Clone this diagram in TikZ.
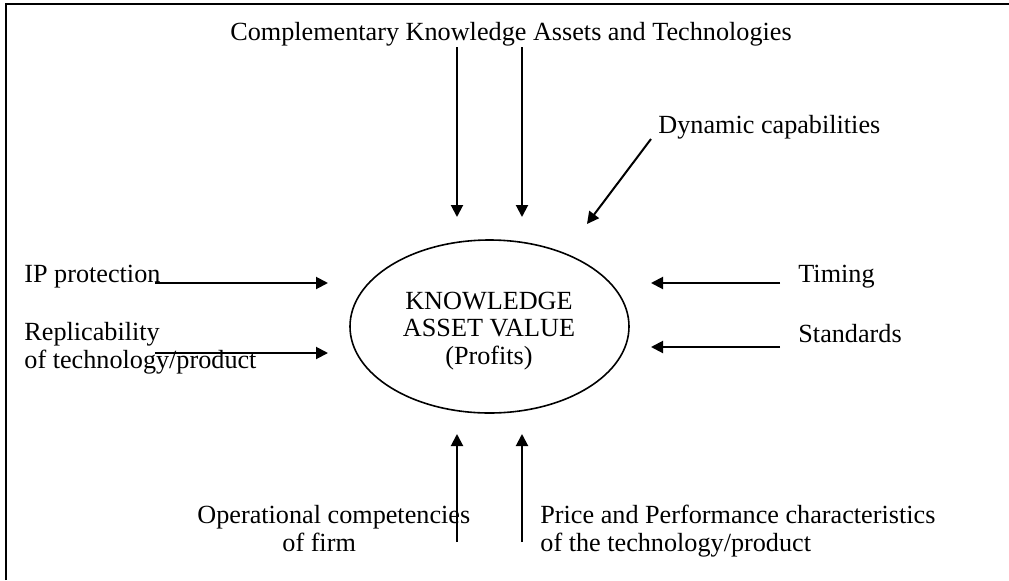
\documentclass[tikz,border=0pt]{standalone}
\usepackage{fontspec}
\setmainfont{Liberation Serif}
\usetikzlibrary{shapes.geometric,arrows.meta}
\begin{document}
\begin{tikzpicture}[x=0.5pt,y=-0.5pt,
  lbl/.style={inner sep=0pt, font=\fontsize{13.1}{14}\selectfont},
  arr/.style={line width=1pt, -{Triangle[length=6pt,width=6pt]}},
  frame/.style={line width=1.4pt}]
\useasboundingbox (0,0) rectangle (1009,580);
% open frame: left and top edges only
\draw[frame] (6,580) -- (6,4) -- (1009,4);

% central value node and its caption
\node[ellipse, draw, line width=0.8pt, minimum width=139.5pt, minimum height=86.5pt,
      inner sep=0pt] (kav) at (489.5,326.5) {};
\node[inner sep=0pt, align=center, font=\fontsize{13.1}{13.6}\selectfont]
  (kavt) at (489,331) {KNOWLEDGE\\ASSET VALUE\\(Profits)};

% surrounding factors (multi-line nodes sit on the baseline of their last line)
\node[lbl, anchor=base] (compl) at (511,40) {Complementary Knowledge Assets and Technologies};
\node[lbl, anchor=base west] (dyn) at (658,133) {Dynamic capabilities};
\node[lbl, anchor=base west] (ip) at (24,282) {IP protection};
\node[lbl, anchor=base west, align=left] (repl) at (24,368) {Replicability\\of technology/product};
\node[lbl, anchor=base west] (tim) at (798,282) {Timing};
\node[lbl, anchor=base west] (std) at (798,342) {Standards};
\node[lbl, anchor=base west, align=left] (oper) at (197,551) {Operational competencies\\\hspace*{42.5pt}of firm};
\node[lbl, anchor=base west, align=left] (price) at (540,551) {Price and Performance characteristics\\of the technology/product};

% arrow end points
\coordinate (c1s) at (457,47);  \coordinate (c1e) at (457,217);
\coordinate (c2s) at (522,47);  \coordinate (c2e) at (522,217);
\coordinate (dys) at (651,139); \coordinate (dye) at (587,224);
\coordinate (ips) at (155,283); \coordinate (ipe) at (328,283);
\coordinate (rps) at (155,353); \coordinate (rpe) at (328,353);
\coordinate (tms) at (780,283); \coordinate (tme) at (651,283);
\coordinate (sts) at (780,347); \coordinate (ste) at (651,347);
\coordinate (ops) at (457,542); \coordinate (ope) at (457,434);
\coordinate (prs) at (522,542); \coordinate (pre) at (522,434);

\draw[arr] (c1s) -- (c1e);
\draw[arr] (c2s) -- (c2e);
\draw[arr] (dys) -- (dye);
\draw[arr] (ips) -- (ipe);
\draw[arr] (rps) -- (rpe);
\draw[arr] (tms) -- (tme);
\draw[arr] (sts) -- (ste);
\draw[arr] (ops) -- (ope);
\draw[arr] (prs) -- (pre);
\end{tikzpicture}
\end{document}
